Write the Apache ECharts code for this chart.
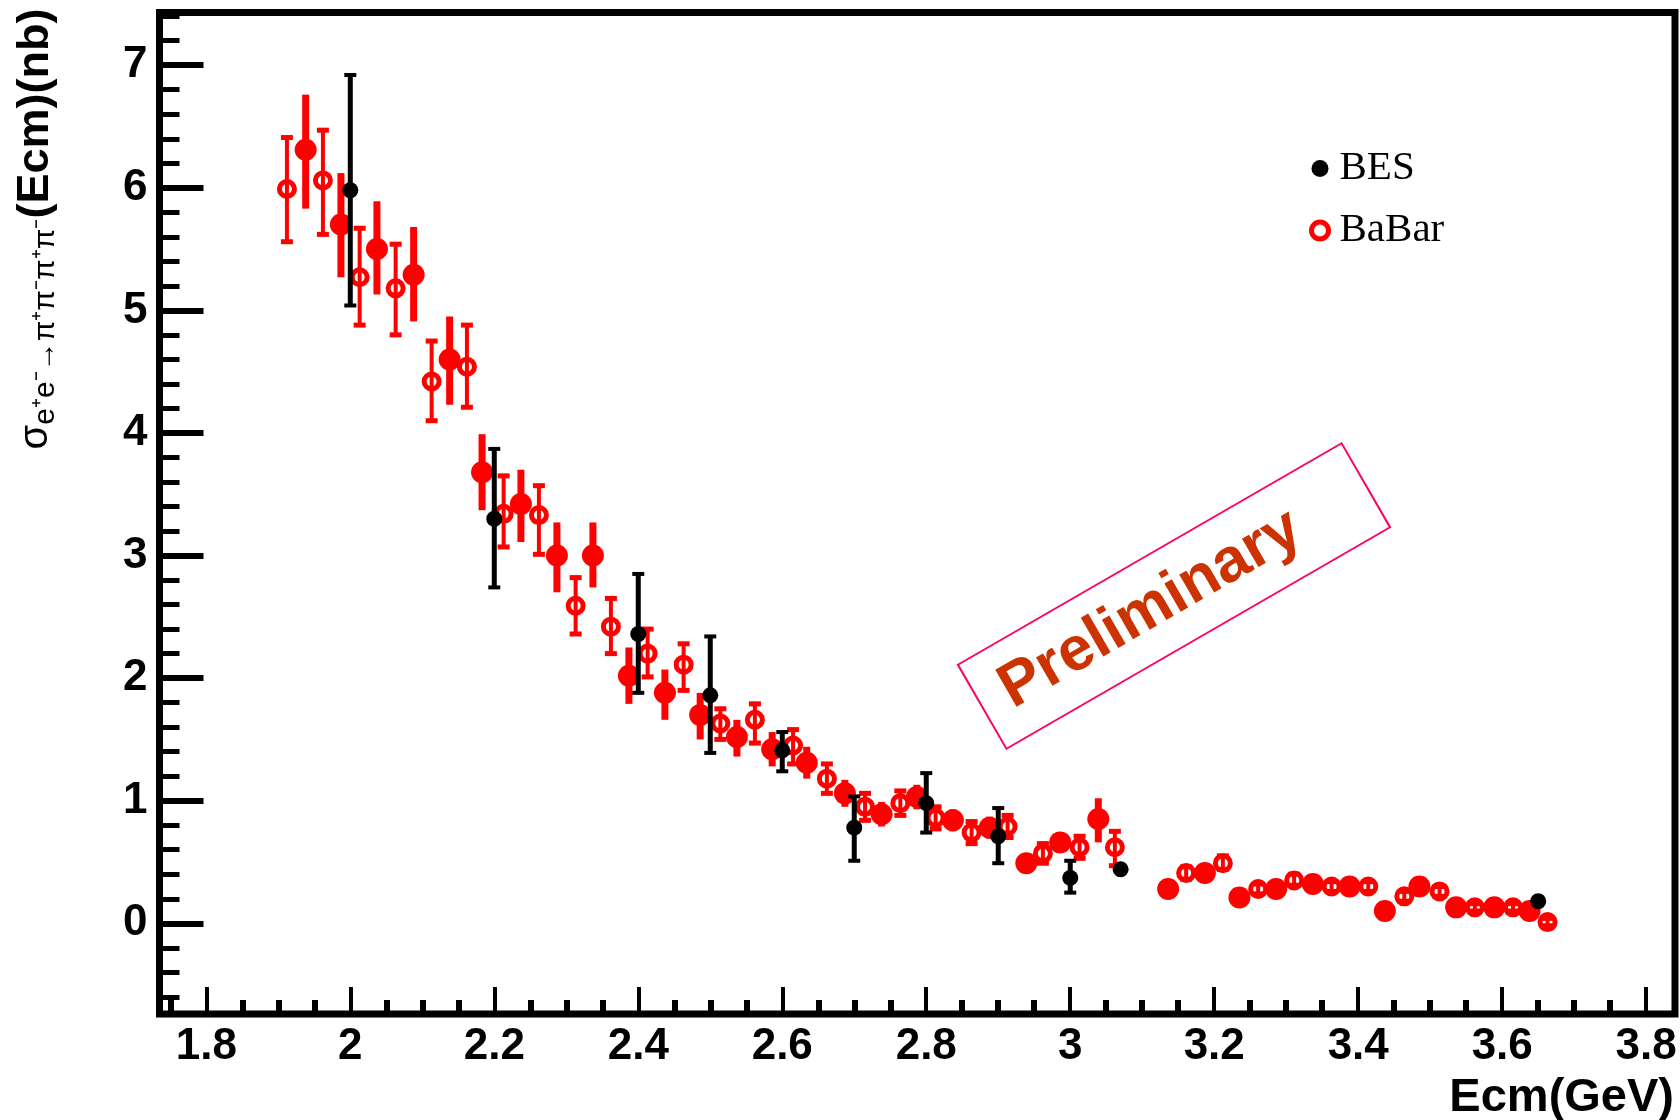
<!DOCTYPE html>
<html>
<head>
<meta charset="utf-8">
<script src="https://cdn.jsdelivr.net/npm/echarts@6/dist/echarts.min.js"></script>
<style>
html,body{margin:0;padding:0;background:#fff;}
#chart{width:1680px;height:1120px;}
</style>
</head>
<body>
<div id="chart"></div>
<script>
// ---- Data ----
// BaBar, open markers: Ecm (GeV), sigma (nb), lower, upper
const babarOpenE  = [1.912,1.962,2.013,2.063,2.113,2.162,2.213,2.262,2.313,2.362,2.413,2.463,2.514,2.562,2.615,2.662,2.715,2.764,2.813,2.863,2.913,2.962,3.013,3.062,3.161,3.212,3.261,3.311,3.363,3.414,3.464,3.513,3.562,3.615,3.663];
const babarOpenY  = [5.99,6.06,5.27,5.18,4.42,4.54,3.34,3.33,2.59,2.42,2.20,2.11,1.63,1.66,1.45,1.18,0.95,0.98,0.86,0.74,0.79,0.57,0.62,0.62,0.41,0.49,0.28,0.35,0.30,0.30,0.22,0.26,0.13,0.13,0.01];
const babarOpenLo = [5.56,5.62,4.88,4.80,4.10,4.21,3.07,3.01,2.36,2.20,2.01,1.90,1.50,1.47,1.30,1.06,0.84,0.88,0.77,0.65,0.70,0.49,0.53,0.47,0.36,0.44,0.24,0.31,0.26,0.26,0.18,0.22,0.10,0.10,-0.02];
const babarOpenHi = [6.41,6.47,5.67,5.54,4.75,4.88,3.65,3.57,2.82,2.65,2.40,2.28,1.75,1.79,1.58,1.30,1.06,1.08,0.95,0.83,0.88,0.65,0.71,0.75,0.46,0.55,0.32,0.40,0.34,0.34,0.26,0.30,0.16,0.16,0.04];

// BaBar, filled markers
const babarFullE  = [1.938,1.987,2.037,2.088,2.138,2.183,2.237,2.287,2.337,2.387,2.437,2.486,2.537,2.586,2.634,2.687,2.738,2.787,2.837,2.888,2.939,2.986,3.039,3.136,3.187,3.235,3.286,3.337,3.388,3.437,3.485,3.536,3.589,3.638];
const babarFullY  = [6.31,5.70,5.50,5.29,4.60,3.68,3.42,3.00,3.00,2.02,1.88,1.70,1.52,1.42,1.31,1.06,0.89,1.03,0.84,0.78,0.49,0.66,0.85,0.28,0.41,0.21,0.28,0.32,0.30,0.10,0.30,0.13,0.13,0.10];
const babarFullLo = [5.83,5.27,5.13,4.91,4.23,3.37,3.11,2.70,2.74,1.79,1.66,1.50,1.36,1.28,1.18,0.95,0.79,0.93,0.75,0.69,0.42,0.58,0.66,0.24,0.36,0.17,0.24,0.28,0.26,0.07,0.26,0.10,0.10,0.07];
const babarFullHi = [6.76,6.12,5.89,5.68,4.95,3.99,3.70,3.27,3.27,2.25,2.07,1.88,1.66,1.56,1.44,1.17,0.99,1.13,0.93,0.87,0.56,0.74,1.02,0.32,0.46,0.25,0.32,0.36,0.34,0.13,0.34,0.16,0.16,0.13];

// BES
const besE  = [2.0,2.2,2.4,2.5,2.6,2.7,2.8,2.9,3.0,3.07,3.65];
const besY  = [5.98,3.30,2.36,1.86,1.41,0.78,0.98,0.71,0.37,0.44,0.18];
const besLo = [5.04,2.74,1.88,1.39,1.24,0.51,0.74,0.49,0.25,0.44,0.18];
const besHi = [6.92,3.87,2.85,2.34,1.56,1.035,1.225,0.94,0.51,0.44,0.18];

// Axis ranges
const xRange = [1.735, 3.84];
const yRange = [-0.74, 7.43];

// Text
const xTitle = 'Ecm(GeV)';
const legendNames = ['BES', 'BaBar'];
const stampText = 'Preliminary';

// ---- Build ----
const pts = (xs, ys) => xs.map((x, i) => [x, ys[i]]);
const errs = (xs, lo, hi) => xs.map((x, i) => [x, lo[i], hi[i]]);

function errRender(width, capW, capH, color) {
  return function (params, api) {
    const x = api.value(0), lo = api.value(1), hi = api.value(2);
    if (hi - lo <= 0) return null;
    const a = api.coord([x, hi]), b = api.coord([x, lo]);
    const kids = [{
      type: 'line',
      shape: { x1: a[0], y1: a[1], x2: b[0], y2: b[1] },
      style: { stroke: color, lineWidth: width }
    }];
    if (capW > 0) {
      kids.push({ type: 'line', shape: { x1: a[0] - capW / 2, y1: a[1], x2: a[0] + capW / 2, y2: a[1] }, style: { stroke: color, lineWidth: capH } });
      kids.push({ type: 'line', shape: { x1: b[0] - capW / 2, y1: b[1], x2: b[0] + capW / 2, y2: b[1] }, style: { stroke: color, lineWidth: capH } });
    }
    return { type: 'group', children: kids };
  };
}

const chart = echarts.init(document.getElementById('chart'), null, { renderer: 'canvas' });
const LAB = { fontFamily: 'Liberation Sans, Arial, sans-serif', fontWeight: 'bold', fontSize: 44, color: '#000' };

chart.setOption({
  animation: false,
  backgroundColor: '#fff',
  grid: { left: 159.5, top: 12.5, right: 5, bottom: 106, containLabel: false, outerBoundsMode: 'none', show: true, borderColor: '#000', borderWidth: 7, backgroundColor: 'transparent' },
  xAxis: {
    type: 'value', min: xRange[0], max: xRange[1], splitNumber: 10,
    axisLine: { show: false, onZero: false },
    splitLine: { show: false },
    axisTick: { show: true, inside: true, length: 27, lineStyle: { color: '#000', width: 4 } },
    minorTick: { show: true, splitNumber: 4, length: 14, lineStyle: { color: '#000', width: 6 } },
    axisLabel: Object.assign({ margin: 11, showMinLabel: false, showMaxLabel: false }, LAB)
  },
  yAxis: {
    type: 'value', min: yRange[0], max: yRange[1], splitNumber: 8,
    axisLine: { show: false, onZero: false },
    splitLine: { show: false },
    axisTick: { show: true, inside: true, length: 44, lineStyle: { color: '#000', width: 6 } },
    minorTick: { show: true, splitNumber: 5, length: 20, lineStyle: { color: '#000', width: 5 } },
    axisLabel: Object.assign({ margin: 12, showMinLabel: false, showMaxLabel: false }, LAB)
  },
  legend: {
    orient: 'vertical', left: 1304, top: 143, itemGap: 21,
    itemWidth: 17, itemHeight: 17,
    textStyle: { fontFamily: 'Liberation Serif, Times New Roman, serif', fontSize: 41, color: '#000', lineHeight: 40, padding: [0, 0, 0, 6] },
    data: [
      { name: legendNames[0], icon: 'circle', itemStyle: { color: '#000', borderWidth: 0 } },
      { name: legendNames[1], icon: 'circle', itemStyle: { color: 'rgba(0,0,0,0)', borderColor: '#ff0000', borderWidth: 5 } }
    ]
  },
  series: [
    { type: 'custom', name: 'BaBar filled err', renderItem: errRender(7, 0, 0, '#ff0000'), data: errs(babarFullE, babarFullLo, babarFullHi), encode: { x: 0, y: [1, 2] }, z: 2, silent: true },
    { type: 'custom', name: 'BaBar open err', renderItem: errRender(4, 12, 5, '#ff0000'), data: errs(babarOpenE, babarOpenLo, babarOpenHi), encode: { x: 0, y: [1, 2] }, z: 2, silent: true },
    { type: 'scatter', name: 'BaBar filled', data: pts(babarFullE, babarFullY), symbol: 'circle', symbolSize: 22, itemStyle: { color: '#ff0000', opacity: 1 }, z: 3 },
    { type: 'scatter', name: legendNames[1], data: pts(babarOpenE, babarOpenY), symbol: 'circle', symbolSize: 15, itemStyle: { color: 'rgba(0,0,0,0)', borderColor: '#ff0000', borderWidth: 5, opacity: 1 }, z: 4 },
    { type: 'custom', name: 'BES err', renderItem: errRender(5, 12, 4, '#000'), data: errs(besE, besLo, besHi), encode: { x: 0, y: [1, 2] }, z: 5, silent: true },
    { type: 'scatter', name: legendNames[0], data: pts(besE, besY), symbol: 'circle', symbolSize: 16, itemStyle: { color: '#000', opacity: 1 }, z: 6 }
  ],
  graphic: [
    {
      type: 'text', x: 36, y: 229, rotation: Math.PI / 2,
      style: {
        text: '{s|σ}{sub|e⁺e⁻→π⁺π⁻π⁺π⁻}{m|(Ecm)(nb)}',
        align: 'center', verticalAlign: 'middle',
        rich: {
          s: { fontFamily: 'Liberation Sans, Arial, sans-serif', fontSize: 40, fill: '#000', lineHeight: 50 },
          sub: { fontFamily: 'Liberation Sans, Arial, sans-serif', fontSize: 30, fill: '#000', lineHeight: 28, verticalAlign: 'bottom' },
          m: { fontFamily: 'Liberation Sans, Arial, sans-serif', fontWeight: 'bold', fontSize: 45, fill: '#000', lineHeight: 50 }
        }
      }
    },
    {
      type: 'text', x: 1674, y: 1098,
      style: { text: xTitle, align: 'right', verticalAlign: 'middle', fontFamily: 'Liberation Sans, Arial, sans-serif', fontWeight: 'bold', fontSize: 47, fill: '#000' }
    },
    {
      type: 'group', x: 1174, y: 596, rotation: Math.PI / 6,
      children: [
        { type: 'rect', shape: { x: -221.5, y: -48.5, width: 443, height: 97 }, style: { fill: 'none', stroke: '#ff0066', lineWidth: 2 } },
        { type: 'text', x: -27, y: 0, style: { text: stampText, align: 'center', verticalAlign: 'middle', fontFamily: 'Liberation Sans, Arial, sans-serif', fontWeight: 'bold', fontSize: 62, fill: '#cc3300' } }
      ]
    }
  ]
});
</script>
</body>
</html>
